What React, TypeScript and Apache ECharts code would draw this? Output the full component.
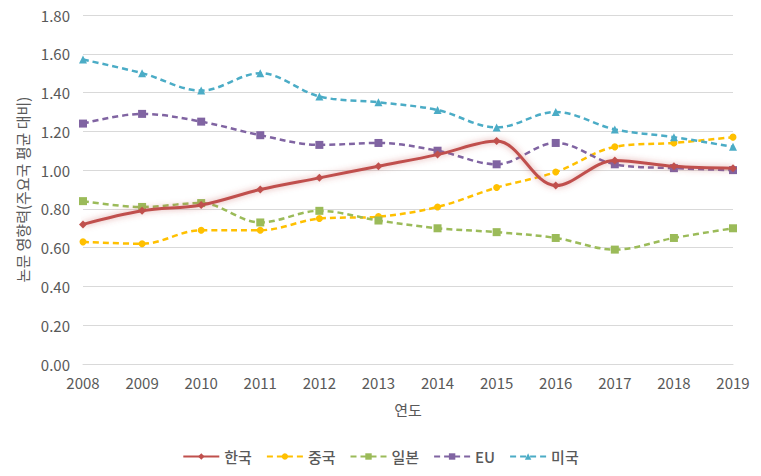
import React, { useEffect, useRef } from "react";
import * as echarts from "echarts";

const years = ["2008", "2009", "2010", "2011", "2012", "2013", "2014", "2015", "2016", "2017", "2018", "2019"];
const korea = [0.72, 0.79, 0.82, 0.9, 0.96, 1.02, 1.08, 1.15, 0.92, 1.05, 1.02, 1.01];
const china = [0.63, 0.62, 0.69, 0.69, 0.75, 0.76, 0.81, 0.91, 0.99, 1.12, 1.14, 1.17];
const japan = [0.84, 0.81, 0.83, 0.73, 0.79, 0.74, 0.7, 0.68, 0.65, 0.59, 0.65, 0.7];
const eu = [1.24, 1.29, 1.25, 1.18, 1.13, 1.14, 1.1, 1.03, 1.14, 1.03, 1.01, 1.0];
const usa = [1.57, 1.5, 1.41, 1.5, 1.38, 1.35, 1.31, 1.22, 1.3, 1.21, 1.17, 1.12];

const FONT = "'Noto Sans CJK KR', 'Noto Sans', sans-serif";
const TXT = "#595959";

export default function App() {
  const ref = useRef<HTMLDivElement>(null);
  useEffect(() => {
    if (!ref.current) return;
    const chart = echarts.init(ref.current, undefined, { renderer: "svg" });
    const mk = (name: string, data: number[], color: string, symbol: string, size: number, dashed: boolean, glow = false) => ({
      name,
      type: "line",
      data,
      smooth: 0.35,
      symbol,
      symbolSize: size,
      showSymbol: true,
      lineStyle: {
        color,
        width: dashed ? 2.5 : 3,
        type: dashed ? [6, 4] : "solid",
        ...(glow ? { shadowColor: "rgba(192,80,77,0.55)", shadowBlur: 6 } : {}),
      },
      itemStyle: { color },
      z: glow ? 5 : 3,
    });
    chart.setOption({
      animation: false,
      textStyle: { fontFamily: FONT },
      grid: { left: 83, right: 28, top: 15, bottom: 112, containLabel: false },
      legend: {
        top: 444,
        left: "center",
        itemWidth: 36,
        itemHeight: 8,
        itemGap: 14,
        textStyle: { color: TXT, fontSize: 15, fontFamily: FONT, fontWeight: 500 },
        data: ["한국", "중국", "일본", "EU", "미국"],
      },
      xAxis: {
        type: "category",
        data: years,
        boundaryGap: false,
        name: "연도",
        nameLocation: "middle",
        nameGap: 38,
        nameTextStyle: { color: TXT, fontSize: 15, fontFamily: FONT },
        axisLine: { lineStyle: { color: "#D9D9D9" } },
        axisTick: { show: false },
        axisLabel: { color: TXT, fontSize: 15, margin: 11, fontFamily: FONT },
      },
      yAxis: {
        type: "value",
        min: 0,
        max: 1.8,
        interval: 0.2,
        name: "논문 영향력(주요국 평균 대비)",
        nameLocation: "middle",
        nameGap: 50,
        nameTextStyle: { color: TXT, fontSize: 15, fontFamily: FONT },
        axisLine: { show: false },
        axisTick: { show: false },
        splitLine: { lineStyle: { color: "#D9D9D9" } },
        axisLabel: { color: TXT, fontSize: 15, margin: 13, fontFamily: FONT, formatter: (v: number) => v.toFixed(2) },
      },
      series: [
        mk("한국", korea, "#C0504D", "diamond", 8, false, true),
        mk("중국", china, "#FFC000", "circle", 7, true),
        mk("일본", japan, "#9BBB59", "rect", 8, true),
        mk("EU", eu, "#8064A2", "rect", 8, true),
        mk("미국", usa, "#4BACC6", "triangle", 8, true),
      ],
    });
    return () => chart.dispose();
  }, []);
  return <div ref={ref} style={{ width: 761, height: 476, margin: "-8px 0 0 -8px" }} />;
}
